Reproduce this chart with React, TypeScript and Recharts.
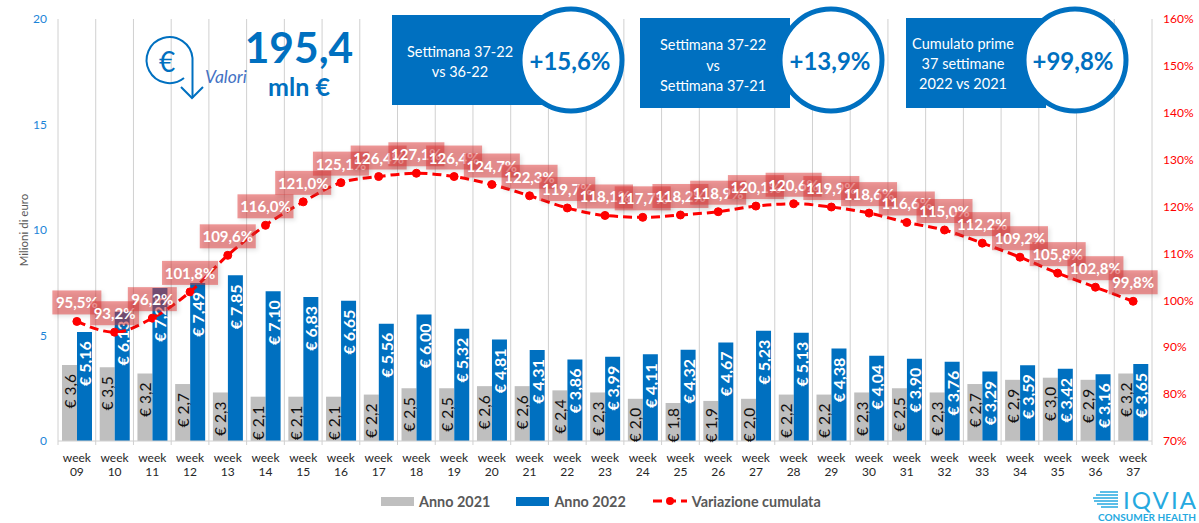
import React from 'react';
import {
	ComposedChart,
	Bar,
	Line,
	XAxis,
	YAxis,
	CartesianGrid,
	Legend,
	LabelList,
} from 'recharts';

const FONT = 'Lato, sans-serif';
const BLUE = '#0070c0';
const GREY = '#bfbfbf';
const RED = '#ff0000';

// Values
const weeks = ['09', '10', '11', '12', '13', '14', '15', '16', '17', '18', '19', '20', '21', '22', '23', '24', '25', '26', '27', '28', '29', '30', '31', '32', '33', '34', '35', '36', '37'];
const anno2021 = [3.6, 3.5, 3.2, 2.7, 2.3, 2.1, 2.1, 2.1, 2.2, 2.5, 2.5, 2.6, 2.6, 2.4, 2.3, 2.0, 1.8, 1.9, 2.0, 2.2, 2.2, 2.3, 2.5, 2.3, 2.7, 2.9, 3.0, 2.9, 3.2];
const anno2022 = [5.16, 6.13, 7.25, 7.49, 7.85, 7.1, 6.83, 6.65, 5.56, 6.0, 5.32, 4.81, 4.31, 3.86, 3.99, 4.11, 4.32, 4.67, 5.23, 5.13, 4.38, 4.04, 3.9, 3.76, 3.29, 3.59, 3.42, 3.16, 3.65];
const variazione = [95.5, 93.2, 96.2, 101.8, 109.6, 116.0, 121.0, 125.1, 126.4, 127.1, 126.4, 124.7, 122.3, 119.7, 118.1, 117.7, 118.2, 118.9, 120.1, 120.6, 119.9, 118.6, 116.6, 115.0, 112.2, 109.2, 105.8, 102.8, 99.8];
const leftTicks = [0, 5, 10, 15, 20];
const rightTicks = [70, 80, 90, 100, 110, 120, 130, 140, 150, 160];

const data = weeks.map((week, i) => ({
	week,
	a2021: anno2021[i],
	a2022: anno2022[i],
	variazione: variazione[i],
}));

const euro = (v: number, digits: number) => '€ ' + v.toFixed(digits).replace('.', ',');

// Rotated value inside the top of a bar, kept inside short bars
const BarValue = ({ x, y, width, height, value, digits, color, bold }: any) => {
	const textLength = digits === 2 ? 40 : 31;
	const gap = Math.min(9, Math.max(2, height - textLength - 2));
	return (
		<text
			transform={`translate(${x + width / 2},${y + gap}) rotate(-90)`}
			textAnchor='end'
			dominantBaseline='central'
			fontFamily={FONT}
			fontSize={digits === 2 ? 16 : 15.5}
			fontWeight={bold ? 700 : 400}
			fill={color}>
			{euro(value, digits)}
		</text>
	);
};

// Pink box above each point of the line
const PointLabel = ({ x, y, value }: any) => {
	const w = value >= 100 ? 56 : 49;
	const h = 24;
	const cy = y - 19;
	return (
		<g>
			<rect
				x={x - w / 2}
				y={cy - h / 2}
				width={w}
				height={h}
				fill='rgba(226,52,52,0.5)'
				style={{ filter: 'drop-shadow(2px 2px 2px rgba(0,0,0,0.22))' }}
			/>
			<text
				x={x}
				y={cy}
				textAnchor='middle'
				dominantBaseline='central'
				fontFamily={FONT}
				fontSize={15}
				fontWeight={700}
				fill='#fff'>
				{value.toFixed(1).replace('.', ',') + '%'}
			</text>
		</g>
	);
};

// Two line week label, plus the tick marks between categories
const WeekTick = ({ x, y, payload, index }: any) => {
	const step = 1094 / weeks.length;
	return (
		<g>
			<line x1={x - step / 2} x2={x - step / 2} y1={y - 8} y2={y - 4} stroke='#d0d0d0' />
			{index === weeks.length - 1 && (
				<line x1={x + step / 2} x2={x + step / 2} y1={y - 8} y2={y - 4} stroke='#d0d0d0' />
			)}
			<text x={x} textAnchor='middle' fontFamily={FONT} fontSize={12} fill='#262626'>
				<tspan x={x} y={y + 13}>week</tspan>
				<tspan x={x} y={y + 27}>{payload.value}</tspan>
			</text>
		</g>
	);
};

const LegendContent = ({ payload }: any) => (
	<div
		style={{
			display: 'flex',
			alignItems: 'center',
			height: 20,
			marginLeft: 381,
			fontFamily: FONT,
			fontSize: 14.4,
			fontWeight: 700,
			color: '#595959',
		}}>
		{(payload || []).map((item: any) => (
			<div key={item.value} style={{ display: 'flex', alignItems: 'center', marginRight: 26 }}>
				{item.type === 'line' ? (
					<svg width={34} height={10} style={{ marginRight: 5, marginLeft: 1 }}>
						<line x1={0} x2={34} y1={5} y2={5} stroke={RED} strokeWidth={3} strokeDasharray='9 5' />
						<circle cx={17} cy={5} r={4} fill={RED} />
					</svg>
				) : (
					<div style={{ width: 33, height: 9, background: item.color, marginRight: 5 }} />
				)}
				{item.value}
			</div>
		))}
	</div>
);

// Blue box with the ringed percentage on its right
const Badge = ({ x, y, w, cx, cy, lines, textX, lineY, pct, pctX }: any) => (
	<g fontFamily={FONT}>
		<rect x={x} y={y} width={w} height={90} fill={BLUE} />
		{lines.map((t: string, i: number) => (
			<text key={i} x={textX} y={lineY[i]} textAnchor='middle' dominantBaseline='central' fontSize={14.5} fill='#fff'>
				{t}
			</text>
		))}
		<circle cx={cx} cy={cy} r={51} fill='#fff' stroke={BLUE} strokeWidth={5} />
		<text x={pctX} y={cy} textAnchor='middle' dominantBaseline='central' fontSize={24} fontWeight={700} fill={BLUE}>
			{pct}
		</text>
	</g>
);

const Overlay = () => (
	<svg width={1199} height={523} style={{ position: 'absolute', left: 0, top: 0, pointerEvents: 'none' }}>
		{/* euro icon */}
		<path d='M184 78 A23 23 0 1 1 192.500 58 L192.500 98' fill='none' stroke={BLUE} strokeWidth={2} />
		<path d='M181 87 L192 98 L203 87' fill='none' stroke={BLUE} strokeWidth={2} />
		<text x={167} y={61} textAnchor='middle' dominantBaseline='central' fontFamily={FONT} fontSize={28} fill={BLUE}>€</text>
		<text x={226} y={76} textAnchor='middle' dominantBaseline='central' fontFamily={FONT} fontSize={17.5} fontStyle='italic' fill='#4472c4'>Valori</text>
		<text x={299} y={46} textAnchor='middle' dominantBaseline='central' fontFamily={FONT} fontSize={42.5} fontWeight={700} fill={BLUE}>195,4</text>
		<text x={299} y={86} textAnchor='middle' dominantBaseline='central' fontFamily={FONT} fontSize={25} fontWeight={700} fill={BLUE}>mln €</text>

		<Badge x={392} y={15} w={150} cx={571} cy={60} textX={460} lineY={[51, 71]} lines={['Settimana 37-22', 'vs 36-22']} pct='+15,6%' pctX={570} />
		<Badge x={640} y={18} w={150} cx={831} cy={60} textX={713} lineY={[44, 65, 85]} lines={['Settimana 37-22', 'vs', 'Settimana 37-21']} pct='+13,9%' pctX={830} />
		<Badge x={906} y={18} w={140} cx={1075} cy={60} textX={963} lineY={[43, 63, 83]} lines={['Cumulato prime', '37 settimane', '2022 vs 2021']} pct='+99,8%' pctX={1073} />

		{/* logo */}
		<g stroke='#25a9e0' strokeWidth={1.500}>
			<line x1={1100} x2={1118} y1={492} y2={492} />
			<line x1={1096} x2={1118} y1={495} y2={495} />
			<line x1={1093} x2={1118} y1={498} y2={498} />
			<line x1={1094} x2={1118} y1={501} y2={501} />
			<line x1={1097} x2={1118} y1={504} y2={504} />
			<line x1={1101} x2={1118} y1={507} y2={507} />
		</g>
		<text x={1123} y={499} dominantBaseline='central' fontFamily={FONT} fontSize={24} fill='#25a9e0' textLength={73}>IQVIA</text>
		<text x={1098} y={517} dominantBaseline='central' fontFamily={FONT} fontSize={10} fontWeight={700} fill='#25a9e0' textLength={98}>CONSUMER HEALTH</text>
	</svg>
);

const App = () => {
	return (
		<div style={{ position: 'absolute', left: 0, top: 0, width: 1199, height: 523, background: '#fff', overflow: 'hidden' }}>
			<ComposedChart
				width={1199}
				height={523}
				data={data}
				barSize={15}
				barGap={0}
				margin={{ top: 19, right: 0, bottom: 6, left: 0 }}>
				<CartesianGrid
					horizontal={false}
					stroke='#d0d0d0'
					verticalCoordinatesGenerator={({ offset }: any) =>
						[...weeks, ''].map((_, i) => offset.left + (i * offset.width) / weeks.length)
					}
				/>
				<XAxis
					dataKey='week'
					height={50}
					interval={0}
					tickLine={false}
					axisLine={{ stroke: '#d0d0d0' }}
					tick={<WeekTick />}
				/>
				<YAxis
					yAxisId='left'
					width={58}
					domain={[0, 20]}
					ticks={leftTicks}
					axisLine={false}
					tickLine={false}
					tickMargin={5}
					tick={{ fontFamily: FONT, fontSize: 12, fill: '#1b84d8' }}
					label={{
						value: 'Milioni di euro',
						angle: -90,
						position: 'insideLeft',
						offset: 24,
						style: { fontFamily: FONT, fontSize: 11.5, fill: '#595959', textAnchor: 'middle' },
					}}
				/>
				<YAxis
					yAxisId='right'
					orientation='right'
					width={47}
					domain={[70, 160]}
					ticks={rightTicks}
					axisLine={false}
					tickLine={false}
					tickMargin={5}
					tickFormatter={(v: number) => `${v}%`}
					tick={{ fontFamily: FONT, fontSize: 12, fill: RED }}
				/>
				<Legend verticalAlign='bottom' height={26} content={<LegendContent />} />
				<Bar yAxisId='left' dataKey='a2021' name='Anno 2021' fill={GREY} isAnimationActive={false}>
					<LabelList dataKey='a2021' content={<BarValue digits={1} color='#111' />} />
				</Bar>
				<Bar yAxisId='left' dataKey='a2022' name='Anno 2022' fill={BLUE} isAnimationActive={false}>
					<LabelList dataKey='a2022' content={<BarValue digits={2} color='#fff' bold />} />
				</Bar>
				<Line
					yAxisId='right'
					type='monotone'
					dataKey='variazione'
					name='Variazione cumulata'
					stroke={RED}
					strokeWidth={3}
					strokeDasharray='9 5'
					dot={{ r: 4, fill: RED, stroke: RED, strokeWidth: 1, strokeDasharray: 'none' }}
					isAnimationActive={false}>
					<LabelList dataKey='variazione' content={<PointLabel />} />
				</Line>
			</ComposedChart>
			<Overlay />
		</div>
	);
};

export default App;
